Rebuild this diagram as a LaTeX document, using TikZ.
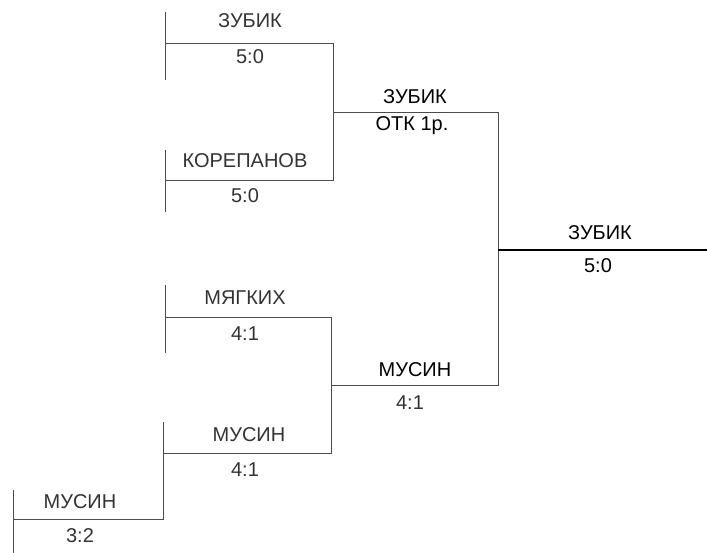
\documentclass[tikz,border=0pt]{standalone}
\usepackage{fontspec}
\setmainfont{Liberation Sans}
\begin{document}
\begin{tikzpicture}[x=1pt,y=-1pt,
  ln/.style={draw=black!70, line width=0.9pt},
  fin/.style={draw=black, line width=1.1pt},
  lbl/.style={inner sep=0pt, text=black!80, font=\fontsize{20}{21}\selectfont},
  lblb/.style={inner sep=0pt, text=black, font=\fontsize{20}{21}\selectfont}]
\useasboundingbox (0,0) rectangle (707,553);
% coordinates
\coordinate (a1t) at (165,12); \coordinate (a1b) at (165,80);
\coordinate (h1l) at (165,43); \coordinate (h1r) at (333,43);
\coordinate (b1t) at (165,150); \coordinate (b1b) at (165,212);
\coordinate (h2l) at (165,180); \coordinate (h2r) at (333,180);
\coordinate (h3l) at (333,112); \coordinate (h3r) at (498,112);
\coordinate (c1t) at (165,285); \coordinate (c1b) at (165,353);
\coordinate (h4l) at (165,317); \coordinate (h4r) at (331,317);
\coordinate (d1t) at (163,422); \coordinate (d1b) at (163,520);
\coordinate (h5l) at (163,453); \coordinate (h5r) at (331,453);
\coordinate (h6l) at (331,385); \coordinate (h6r) at (498,385);
\coordinate (h7l) at (498,250); \coordinate (h7r) at (707,250);
\coordinate (e1t) at (13,490); \coordinate (e1b) at (13,553);
\coordinate (h8l) at (13,519); \coordinate (h8r) at (163,519);
% lines
\draw[ln] (a1t) -- (a1b);
\draw[ln] (b1t) -- (b1b);
\draw[ln] (h1l) -- (h1r) -- (h2r) -- (h2l);
\draw[ln] (h3l) -- (h3r) -- (h6r) -- (h6l);
\draw[ln] (c1t) -- (c1b);
\draw[ln] (d1t) -- (d1b);
\draw[ln] (h4l) -- (h4r) -- (h5r) -- (h5l);
\draw[ln] (e1t) -- (e1b);
\draw[ln] (h8l) -- (h8r);
\draw[fin] (h7l) -- (h7r);
% labels
\node[lbl] (n1) at (250,21) {ЗУБИК};
\node[lbl] (s1) at (250,57) {5:0};
\node[lbl] (n2) at (245,161) {КОРЕПАНОВ};
\node[lbl] (s2) at (245,196) {5:0};
\node[lblb] (n3) at (415,97) {ЗУБИК};
\node[lblb] (s3) at (412,126) {ОТК 1р.};
\node[lbl] (n4) at (245,298) {МЯГКИХ};
\node[lbl] (s4) at (245,334) {4:1};
\node[lbl] (n5) at (249,435) {МУСИН};
\node[lbl] (s5) at (245,470) {4:1};
\node[lblb] (n6) at (415,370) {МУСИН};
\node[lbl] (s6) at (410,403) {4:1};
\node[lbl] (n7) at (80,502) {МУСИН};
\node[lbl] (s7) at (80,536) {3:2};
\node[lblb] (n8) at (600,233) {ЗУБИК};
\node[lblb] (s8) at (598,266) {5:0};
\end{tikzpicture}
\end{document}
